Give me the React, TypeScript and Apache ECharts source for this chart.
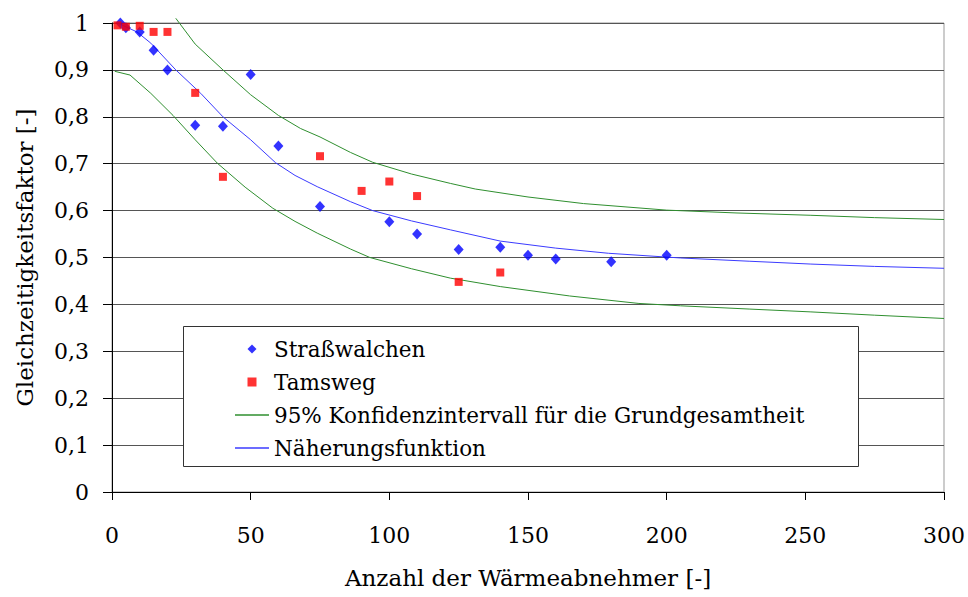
import React, { useEffect, useRef } from "react";
import * as echarts from "echarts";

const xTicks = [0, 50, 100, 150, 200, 250, 300];
const yTickLabels = ["0", "0,1", "0,2", "0,3", "0,4", "0,5", "0,6", "0,7", "0,8", "0,9", "1"];

const strassX = [3, 5, 10, 15, 20, 30, 40, 50, 60, 75, 100, 110, 125, 140, 150, 160, 180, 200];
const strassY = [1.0, 0.99, 0.981, 0.942, 0.9, 0.782, 0.78, 0.89, 0.738, 0.609, 0.576, 0.55, 0.517, 0.522, 0.505, 0.497, 0.491, 0.505];

const tamsX = [2, 5, 10, 15, 20, 30, 40, 75, 90, 100, 110, 125, 140];
const tamsY = [0.995, 0.992, 0.994, 0.981, 0.981, 0.851, 0.672, 0.716, 0.642, 0.662, 0.631, 0.448, 0.468];

const upperX = [23, 30, 40, 50, 60, 68, 75, 86, 94, 108, 122, 131, 150, 170, 200, 225, 252, 275, 300];
const upperY = [1.01, 0.955, 0.9, 0.847, 0.803, 0.775, 0.757, 0.724, 0.703, 0.678, 0.658, 0.646, 0.629, 0.615, 0.601, 0.595, 0.59, 0.585, 0.581];

const lowerX = [1, 6.5, 14, 22, 30, 38, 48, 58, 66, 74, 86, 93, 108, 122, 140, 165, 190, 205, 230, 252, 275, 300];
const lowerY = [0.897, 0.889, 0.85, 0.803, 0.751, 0.701, 0.65, 0.605, 0.577, 0.552, 0.518, 0.5, 0.476, 0.456, 0.438, 0.418, 0.402, 0.397, 0.39, 0.384, 0.377, 0.37];

const fitX = [2, 9, 14, 23, 32, 40, 50, 59, 66, 74, 86, 94, 108, 122, 140, 160, 179, 205, 230, 252, 275, 300];
const fitY = [1.0, 0.981, 0.957, 0.9, 0.85, 0.8, 0.751, 0.702, 0.675, 0.651, 0.619, 0.6, 0.578, 0.559, 0.535, 0.52, 0.509, 0.499, 0.492, 0.486, 0.481, 0.477];

const NAME_S = "Straßwalchen";
const NAME_T = "Tamsweg";
const NAME_CI = "95% Konfidenzintervall für die Grundgesamtheit";
const NAME_FIT = "Näherungsfunktion";

const zip = (xs: number[], ys: number[]) => xs.map((x, i) => [x, ys[i]]);

const DIAMOND = "path://M0,-1L1,0L0,1L-1,0Z";
const SQUARE = "path://M0,0L1,0L1,1L0,1Z";
const LINEICON = "path://M0,0L32,0L32,1.3L0,1.3Z";
const SERIF = "DejaVu Serif";

export default function App() {
  const ref = useRef<HTMLDivElement>(null);
  useEffect(() => {
    if (!ref.current) return;
    const chart = echarts.init(ref.current, null, { renderer: "svg" });
    const lineSeries = (name: string, xs: number[], ys: number[], color: string) => ({
      name,
      type: "line",
      showSymbol: false,
      symbol: "none",
      smooth: false,
      clip: false,
      itemStyle: { color },
      lineStyle: { color, width: 1 },
      data: zip(xs, ys),
    });
    chart.setOption({
      animation: false,
      backgroundColor: "#fff",
      grid: {
        left: 112,
        right: 23,
        top: 23,
        bottom: 105,
        show: true,
        borderColor: "#999",
        borderWidth: 1,
        backgroundColor: "transparent",
      },
      xAxis: {
        type: "value",
        min: xTicks[0],
        max: xTicks[xTicks.length - 1],
        interval: 50,
        name: "Anzahl der Wärmeabnehmer [-]",
        nameLocation: "middle",
        nameGap: 74,
        nameTextStyle: { fontFamily: SERIF, fontSize: 23, color: "#000" },
        axisLine: { onZero: false, lineStyle: { color: "#000", width: 1 } },
        axisTick: { show: true, length: 8, lineStyle: { color: "#000" } },
        axisLabel: { fontFamily: SERIF, fontSize: 22, color: "#000", margin: 32 },
        splitLine: { show: false },
      },
      yAxis: {
        type: "value",
        min: 0,
        max: 1,
        interval: 0.1,
        name: "Gleichzeitigkeitsfaktor [-]",
        nameLocation: "middle",
        nameRotate: 90,
        nameGap: 76,
        nameTextStyle: { fontFamily: SERIF, fontSize: 23, color: "#000" },
        axisLine: { show: true, lineStyle: { color: "#000", width: 1 } },
        axisTick: { show: true, length: 9, lineStyle: { color: "#000" } },
        axisLabel: {
          fontFamily: SERIF,
          fontSize: 22,
          color: "#000",
          margin: 23,
          formatter: (v: number) => yTickLabels[Math.round(v * 10)] ?? String(v),
        },
        splitLine: { show: true, lineStyle: { color: "#555", width: 1 } },
      },
      graphic: [
        {
          type: "rect",
          z: 3,
          shape: { x: 183.5, y: 326.5, width: 675, height: 140 },
          style: { fill: "#fff", stroke: "#333", lineWidth: 1 },
        },
      ],
      legend: {
        orient: "vertical",
        left: 235,
        top: 336,
        padding: 0,
        itemGap: 7,
        itemWidth: 34,
        itemHeight: 9,
        symbolKeepAspect: true,
        z: 5,
        data: [
          { name: NAME_S, icon: DIAMOND },
          { name: NAME_T, icon: SQUARE },
          { name: NAME_CI, icon: LINEICON },
          { name: NAME_FIT, icon: LINEICON },
        ],
        textStyle: { fontFamily: SERIF, fontSize: 21.5, color: "#000", lineHeight: 26 },
      },
      series: [
        {
          name: NAME_S,
          type: "scatter",
          symbol: "diamond",
          symbolSize: [10, 11],
          clip: false,
          itemStyle: { color: "#0000ff" },
          data: zip(strassX, strassY),
          z: 4,
        },
        {
          name: NAME_T,
          type: "scatter",
          symbol: "rect",
          symbolSize: 8,
          clip: false,
          itemStyle: { color: "#ff0000" },
          data: zip(tamsX, tamsY),
          z: 4,
        },
        lineSeries(NAME_CI, upperX, upperY, "#2f8f2f"),
        lineSeries(NAME_CI, lowerX, lowerY, "#2f8f2f"),
        lineSeries(NAME_FIT, fitX, fitY, "#3b3bff"),
      ],
    });
    return () => chart.dispose();
  }, []);
  return <div ref={ref} style={{ width: 968, height: 597, position: "absolute", left: 0, top: 0 }} />;
}
